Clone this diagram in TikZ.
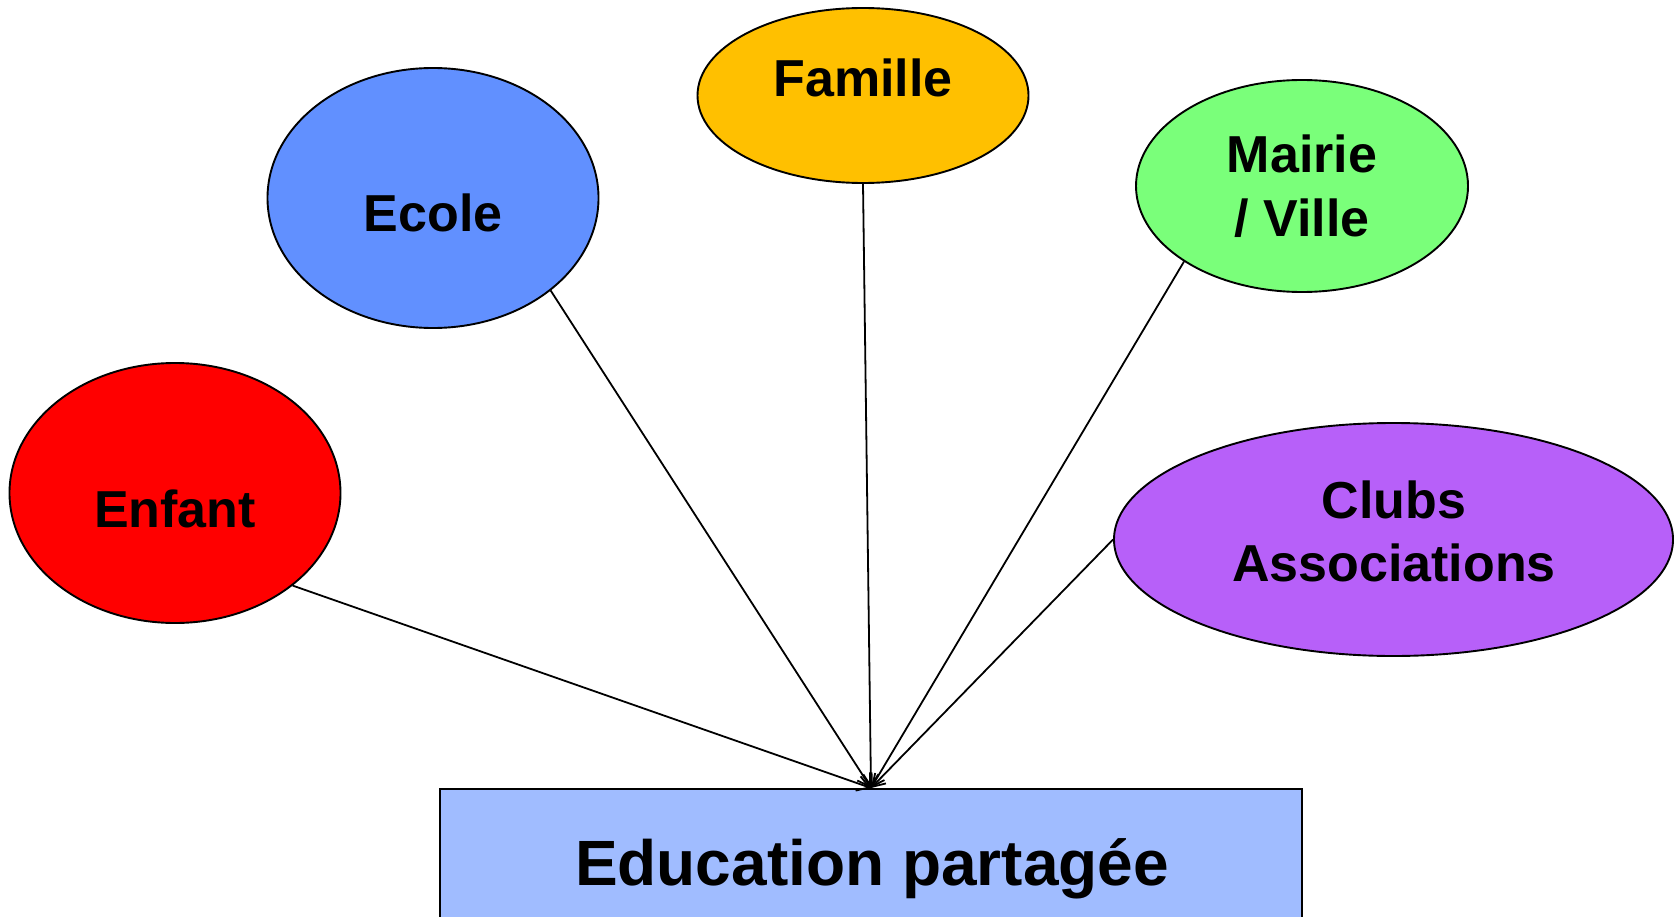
\documentclass[tikz,border=0pt]{standalone}
\usepackage{fontspec}
\setmainfont{Liberation Sans}
\usetikzlibrary{shapes.geometric,arrows.meta}
\definecolor{cEnfant}{HTML}{FF0000}
\definecolor{cEcole}{HTML}{6190FF}
\definecolor{cFamille}{HTML}{FFC000}
\definecolor{cMairie}{HTML}{7AFF7A}
\definecolor{cClubs}{HTML}{B760F9}
\definecolor{cBox}{HTML}{A0BCFF}
\begin{document}
\begin{tikzpicture}[x=1pt,y=-1pt,
  bubble/.style={ellipse,draw=black,line width=1.9pt,inner sep=0pt},
  lbl/.style={anchor=base,inner sep=0pt,font=\fontsize{52}{60}\selectfont\bfseries},
  bigbox/.style={rectangle,draw=black,line width=1.9pt,fill=cBox,inner sep=0pt,anchor=north,minimum width=862pt,minimum height=180pt},
  biglbl/.style={anchor=base,inner sep=0pt,font=\fontsize{64}{72}\selectfont\bfseries},
  conn/.style={draw=black,line width=1.8pt,-{Straight Barb[length=12pt,width=15pt,line width=1.8pt]}}]
\useasboundingbox (0,0) rectangle (1680,917);
\fill[white] (0,0) rectangle (1680,917);
% ellipses
\node[bubble,fill=cEnfant,minimum width=331pt,minimum height=260pt] (enfant) at (175,493) {};
\node[bubble,fill=cEcole,minimum width=331pt,minimum height=260pt] (ecole) at (433,198) {};
\node[bubble,fill=cFamille,minimum width=331pt,minimum height=175pt] (famille) at (863,95.5) {};
\node[bubble,fill=cMairie,minimum width=332pt,minimum height=212pt] (mairie) at (1302,186) {};
\node[bubble,fill=cClubs,minimum width=559pt,minimum height=233pt] (clubs) at (1393.5,539.5) {};
% box
\node[bigbox] (box) at (871,788) {};
% labels
\node[lbl] (tEnfant) at (175,527) {Enfant};
\node[lbl] (tEcole) at (433,232) {Ecole};
\node[lbl] (tFamille) at (863,97) {Famille};
\node[lbl] (tMairie1) at (1302,173) {Mairie};
\node[lbl] (tMairie2) at (1302,237) {/ Ville};
\node[lbl] (tClubs1) at (1394,518) {Clubs};
\node[lbl] (tClubs2) at (1394,581) {Associations};
\node[biglbl] (tBox) at (872,885) {Education partagée};
% connectors
\draw[conn] (enfant.south east) -- (box.north);
\draw[conn] (ecole.south east) -- (box.north);
\draw[conn] (famille.south) -- (box.north);
\draw[conn] (mairie.south west) -- (box.north);
\draw[conn] (clubs.west) -- (box.north);
\end{tikzpicture}
\end{document}
